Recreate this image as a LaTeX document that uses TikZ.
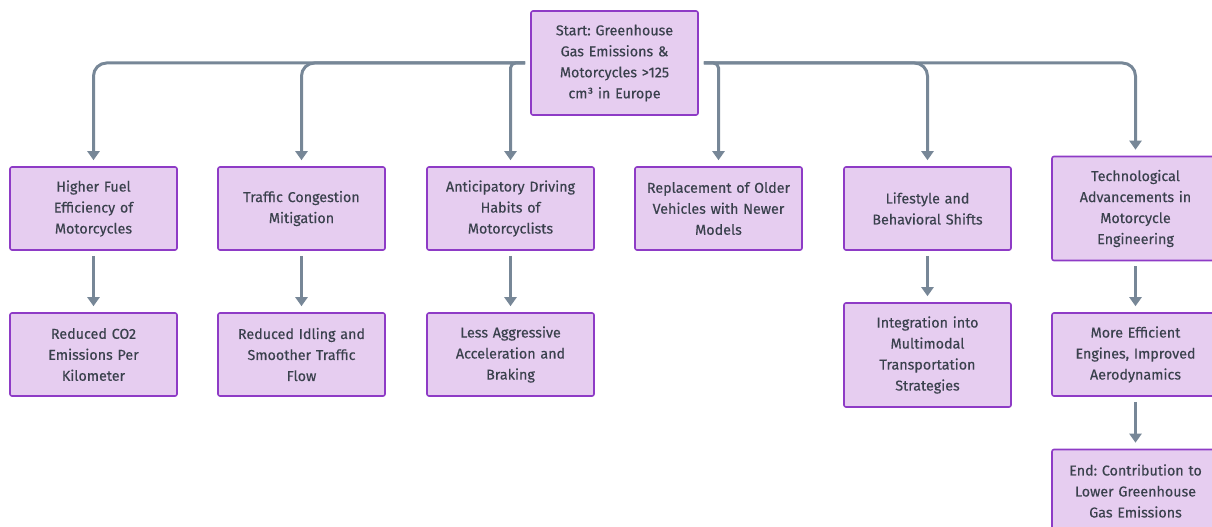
\documentclass[tikz,border=0pt]{standalone}
\usepackage{fontspec}
\setmainfont{Fira Sans}[FakeBold=0.35]
\frenchspacing
\usetikzlibrary{arrows.meta}
\definecolor{boxfill}{HTML}{E6CDF0}
\definecolor{boxline}{HTML}{8E3BC6}
\definecolor{edgecol}{HTML}{778797}
\definecolor{txt}{HTML}{3A414D}
\tikzset{
  stepbox/.style={draw=boxline, fill=boxfill, line width=1.6pt, rounded corners=2pt,
    minimum width=167pt, text width=156pt, align=center, inner sep=0pt,
    text=txt, font=\fontsize{14.3pt}{21pt}\selectfont},
  h3/.style={minimum height=83pt},
  h4/.style={minimum height=104pt},
  link/.style={draw=edgecol, line width=3pt,
    -{Triangle[width=12pt,length=9pt]}, shorten <=5pt, shorten >=6pt},
  farbend/.style={rounded corners=13pt},
  nearbend/.style={rounded corners=5pt}
}
\begin{document}
\begin{tikzpicture}[x=1pt,y=-1pt]
\useasboundingbox (0,0) rectangle (1212,527);

% root
\node[stepbox,h4] (start) at (614.5,63) {Start: Greenhouse\\Gas Emissions \&\\Motorcycles >125\\cm³ in Europe};

% first level
\node[stepbox,h3] (fuel) at (93.5,208.5) {Higher Fuel\\Efficiency of\\Motorcycles};
\node[stepbox,h3] (traffic) at (301.5,208.5) {Traffic Congestion\\Mitigation};
\node[stepbox,h3] (driving) at (510.5,208.5) {Anticipatory Driving\\Habits of\\Motorcyclists};
\node[stepbox,h3] (replace) at (718.5,208.5) {Replacement of Older\\Vehicles with Newer\\Models};
\node[stepbox,h3] (life) at (927.5,208.5) {Lifestyle and\\Behavioral Shifts};
\node[stepbox,h4] (tech) at (1135.5,208.5) {Technological\\Advancements in\\Motorcycle\\Engineering};

% second level
\node[stepbox,h3] (co2) at (93.5,354.5) {Reduced CO2\\Emissions Per\\Kilometer};
\node[stepbox,h3] (idle) at (301.5,354.5) {Reduced Idling and\\Smoother Traffic\\Flow};
\node[stepbox,h3] (accel) at (510.5,354.5) {Less Aggressive\\Acceleration and\\Braking};
\node[stepbox,h4] (multi) at (927.5,355) {Integration into\\Multimodal\\Transportation\\Strategies};
\node[stepbox,h3] (engine) at (1135.5,354.5) {More Efficient\\Engines, Improved\\Aerodynamics};

% final
\node[stepbox,h3] (finish) at (1135.5,491) {End: Contribution to\\Lower Greenhouse\\Gas Emissions};

% connectors from the root
\draw[link,farbend] (start.west) -| (fuel.north);
\draw[link,farbend] (start.west) -| (traffic.north);
\draw[link,nearbend] (start.west) -| (driving.north);
\draw[link,nearbend] (start.east) -| (replace.north);
\draw[link,farbend] (start.east) -| (life.north);
\draw[link,farbend] (start.east) -| (tech.north);

% vertical chains
\draw[link] (fuel) -- (co2);
\draw[link] (traffic) -- (idle);
\draw[link] (driving) -- (accel);
\draw[link] (life) -- (multi);
\draw[link] (tech) -- (engine);
\draw[link] (engine) -- (finish);
\end{tikzpicture}
\end{document}
